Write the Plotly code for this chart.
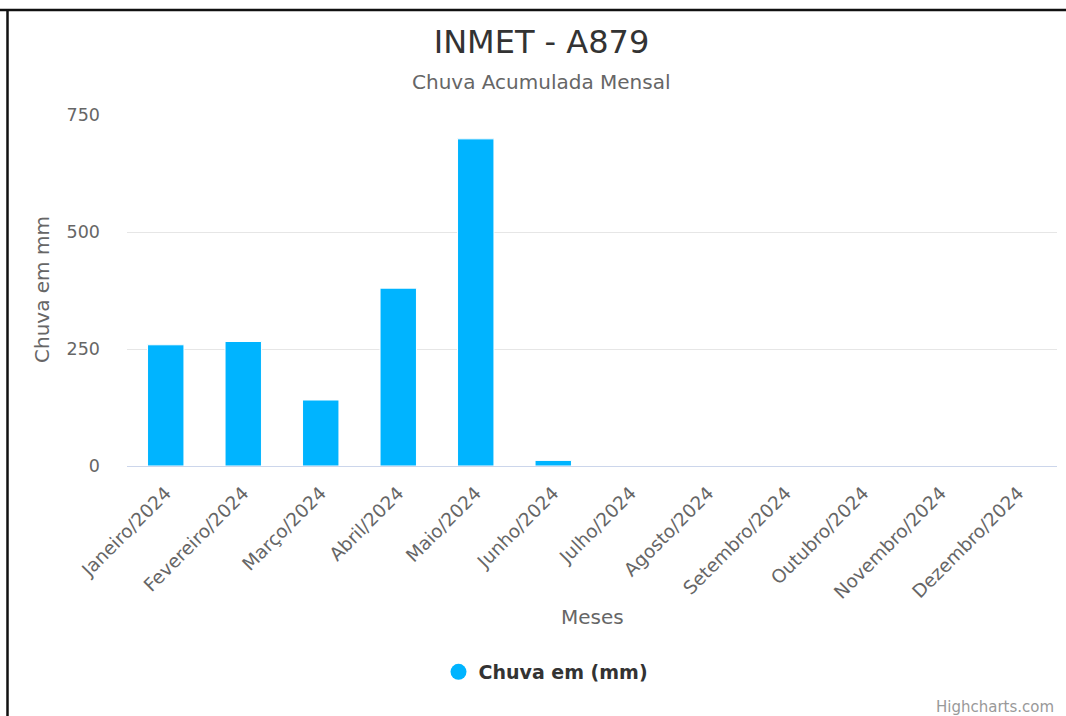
import plotly.graph_objects as go

months = ["Janeiro/2024", "Fevereiro/2024", "Março/2024", "Abril/2024", "Maio/2024",
          "Junho/2024", "Julho/2024", "Agosto/2024", "Setembro/2024", "Outubro/2024",
          "Novembro/2024", "Dezembro/2024"]
rain_mm = [259, 266, 141, 380, 699, 12, 0, 0, 0, 0, 0, 0]
y_ticks = [0, 250, 500, 750]

series_name = "Chuva em (mm)"
bar_color = "#00B4FF"
FONT = "DejaVu Sans"

W, H = 1066, 716
pl, pr, pt, pb = 127, 9, 115, 250
pw, ph = W - pl - pr, H - pt - pb


def px_x(x):
    return (x - pl) / pw


def px_y(y):
    return (H - pb - y) / ph


fig = go.Figure()
fig.add_trace(go.Bar(
    x=months, y=rain_mm, name=series_name, showlegend=False,
    marker=dict(color=bar_color, line=dict(color="#ffffff", width=1)),
))
# legend entry with Highcharts-style round symbol
fig.add_trace(go.Scatter(
    x=[None], y=[None], mode="markers", name=series_name,
    marker=dict(color=bar_color, size=16, symbol="circle"),
))

fig.update_layout(
    width=W, height=H,
    margin=dict(l=pl, r=pr, t=pt, b=pb, autoexpand=False),
    paper_bgcolor="white", plot_bgcolor="white",
    font=dict(family=FONT, color="#666666"),
    title=dict(text="INMET - A879", x=541.5 / W, xanchor="center",
               y=1 - 42 / H, yanchor="middle", yref="container",
               font=dict(size=32, color="#333333", family=FONT)),
    bargap=0.53,
    showlegend=True,
    legend=dict(orientation="h", x=546 / W, xref="container", xanchor="center",
                y=1 - 672 / H, yref="container", yanchor="middle",
                font=dict(size=19, color="#333333", family=FONT, weight="bold"),
                itemsizing="trace", bgcolor="rgba(0,0,0,0)"),
    xaxis=dict(
        tickangle=-45, tickfont=dict(size=18.5, color="#666666"),
        showgrid=False, showline=True, linecolor="#ccd6eb", linewidth=1,
        ticks="", automargin=False, range=[-0.5, 11.5], ticklabelstandoff=8,
    ),
    yaxis=dict(
        range=[0, 750], tickvals=y_ticks, ticktext=[str(v) for v in y_ticks],
        tickfont=dict(size=17.5, color="#666666"),
        showgrid=True, gridcolor="#e6e6e6", gridwidth=1,
        zeroline=False, showline=False, ticks="",
        ticklabelstandoff=26, automargin=False,
    ),
    annotations=[
        dict(text="Chuva Acumulada Mensal", x=px_x(541.5), y=px_y(82),
             xref="paper", yref="paper", showarrow=False, xanchor="center", yanchor="middle",
             font=dict(size=20, color="#666666", family=FONT)),
        dict(text="Chuva em mm", x=px_x(42), y=px_y(290), xref="paper", yref="paper",
             showarrow=False, textangle=-90, xanchor="center", yanchor="middle",
             font=dict(size=20, color="#666666", family=FONT)),
        dict(text="Meses", x=px_x(592), y=px_y(617), xref="paper", yref="paper",
             showarrow=False, xanchor="center", yanchor="middle",
             font=dict(size=20, color="#666666", family=FONT)),
        dict(text="Highcharts.com", x=px_x(1056), y=px_y(707), xref="paper", yref="paper",
             showarrow=False, xanchor="right", yanchor="middle",
             font=dict(size=15, color="#999999", family=FONT)),
    ],
    shapes=[
        dict(type="line", xref="paper", yref="paper", x0=px_x(0), x1=px_x(W),
             y0=px_y(10), y1=px_y(10), line=dict(color="#111111", width=2.5)),
        dict(type="line", xref="paper", yref="paper", x0=px_x(7.5), x1=px_x(7.5),
             y0=px_y(9), y1=px_y(H), line=dict(color="#111111", width=2.5)),
    ],
)

fig.write_html("out.html")
